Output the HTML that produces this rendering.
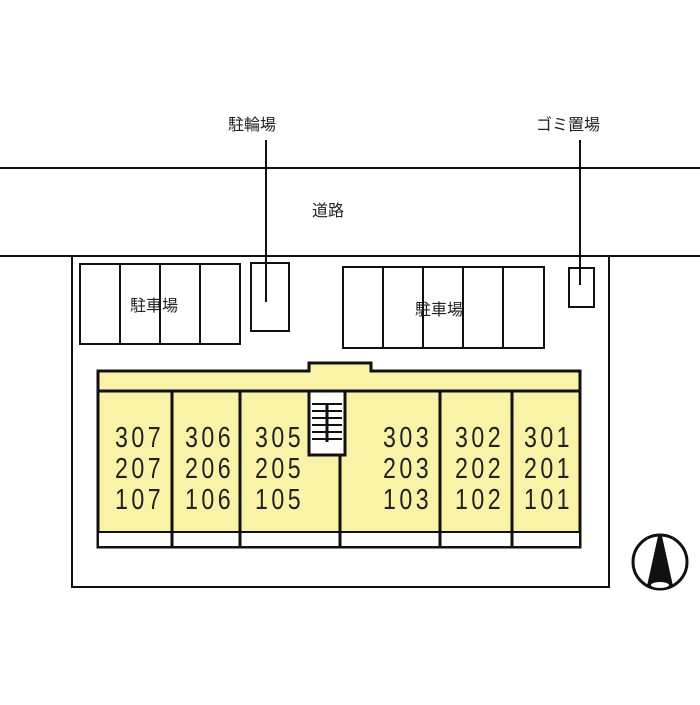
<!DOCTYPE html>
<html><head><meta charset="utf-8"><style>
body{margin:0;background:#fff}
svg text{font-family:"Liberation Sans","Noto Sans CJK JP",sans-serif;fill:#222}
</style></head><body>
<svg width="700" height="700" viewBox="0 0 700 700" xmlns="http://www.w3.org/2000/svg">
<g stroke="#111" stroke-width="2" fill="none">
<line x1="0" y1="168" x2="700" y2="168"/>
<line x1="0" y1="256" x2="72" y2="256"/>
<line x1="609" y1="256" x2="700" y2="256"/>
<rect x="72" y="256" width="537" height="331"/>
<rect x="80" y="264" width="160" height="80"/>
<line x1="120" y1="264" x2="120" y2="344"/><line x1="160" y1="264" x2="160" y2="344"/><line x1="200" y1="264" x2="200" y2="344"/>
<rect x="251" y="263" width="38" height="68"/>
<rect x="343" y="267" width="201" height="81"/>
<line x1="383" y1="267" x2="383" y2="348"/><line x1="423" y1="267" x2="423" y2="348"/><line x1="463" y1="267" x2="463" y2="348"/><line x1="503" y1="267" x2="503" y2="348"/>
<rect x="569" y="268" width="25" height="39"/>
<line x1="266" y1="140" x2="266" y2="302"/>
<line x1="580" y1="140" x2="580" y2="285"/>
</g>
<g stroke="#111" stroke-width="3">
<path d="M98 371 H309 V363 H371 V371 H580 V547 H98 Z" fill="#f8f3a6"/>
<line x1="98" y1="391" x2="309" y2="391"/><line x1="345" y1="391" x2="580" y2="391"/>
<rect x="98" y="532" width="482" height="15" fill="#fff" stroke-width="2"/>
<line x1="172" y1="391" x2="172" y2="547"/><line x1="240" y1="391" x2="240" y2="547"/>
<line x1="340" y1="455" x2="340" y2="547"/><line x1="440" y1="391" x2="440" y2="547"/><line x1="512" y1="391" x2="512" y2="547"/>
<rect x="309" y="391" width="36" height="64" fill="#fff"/>
</g>
<g stroke="#111" stroke-width="2">
<line x1="312" y1="404" x2="342" y2="404"/><line x1="312" y1="411" x2="342" y2="411"/><line x1="312" y1="418" x2="342" y2="418"/><line x1="312" y1="425" x2="342" y2="425"/><line x1="312" y1="432" x2="342" y2="432"/><line x1="312" y1="439" x2="342" y2="439"/>
<line x1="327" y1="404" x2="327" y2="442" stroke-width="3"/>
</g>
<g font-size="16">
<text x="228" y="130">駐輪場</text>
<text x="536" y="130">ゴミ置場</text>
<text x="312" y="216">道路</text>
<text x="130" y="311">駐車場</text>
<text x="415" y="315">駐車場</text>
</g>
<g font-size="29" transform="scale(0.8,1)">
<text x="143.75" y="447" textLength="57">307</text><text x="143.75" y="478" textLength="57">207</text><text x="143.75" y="509" textLength="57">107</text>
<text x="231.25" y="447" textLength="57">306</text><text x="231.25" y="478" textLength="57">206</text><text x="231.25" y="509" textLength="57">106</text>
<text x="318.75" y="447" textLength="57">305</text><text x="318.75" y="478" textLength="57">205</text><text x="318.75" y="509" textLength="57">105</text>
<text x="478.75" y="447" textLength="57">303</text><text x="478.75" y="478" textLength="57">203</text><text x="478.75" y="509" textLength="57">103</text>
<text x="568.75" y="447" textLength="57">302</text><text x="568.75" y="478" textLength="57">202</text><text x="568.75" y="509" textLength="57">102</text>
<text x="655" y="447" textLength="57">301</text><text x="655" y="478" textLength="57">201</text><text x="655" y="509" textLength="57">101</text>
</g>
<circle cx="660" cy="562" r="27" fill="none" stroke="#111" stroke-width="3"/>
<path d="M658 536 H662 L673 586 Q660 592 647 586 Z" fill="#111"/>
<ellipse cx="660" cy="585" rx="9" ry="3" fill="#fff"/>
</svg>
</body></html>
